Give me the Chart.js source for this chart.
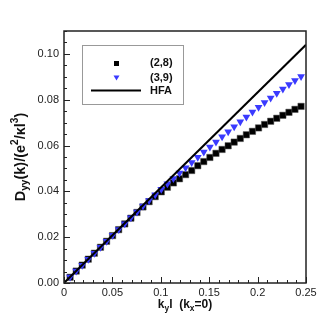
<!DOCTYPE html>
<html>
<head>
<meta charset="utf-8">
<script src="https://cdn.jsdelivr.net/npm/chart.js@4.4.0/dist/chart.umd.min.js"></script>
<style>
  html, body { margin: 0; padding: 0; background: #fff; }
  #wrap { width: 328px; height: 328px; }
</style>
</head>
<body>
<div id="wrap"><canvas id="chart" width="328" height="328"></canvas></div>
<script>
// k_y l values (step ~ 2*pi/1000)
const kValues = [
    0.0063, 0.0126, 0.0188, 0.0251, 0.0314, 0.0377, 0.0440, 0.0502, 0.0565, 0.0628,
    0.0691, 0.0754, 0.0816, 0.0879, 0.0942, 0.1005, 0.1068, 0.1130, 0.1193, 0.1256,
    0.1319, 0.1382, 0.1444, 0.1507, 0.1570, 0.1633, 0.1696, 0.1758, 0.1821, 0.1884,
    0.1947, 0.2010, 0.2072, 0.2135, 0.2198, 0.2261, 0.2324, 0.2386, 0.2449
];
// (2,8) squares
const d28 = [
    0.0025, 0.0052, 0.0078, 0.0104, 0.0130, 0.0156, 0.0182, 0.0207, 0.0233, 0.0258,
    0.0283, 0.0308, 0.0332, 0.0355, 0.0377, 0.0398, 0.0418, 0.0437, 0.0455, 0.0473,
    0.0491, 0.0512, 0.0530, 0.0548, 0.0566, 0.0583, 0.0599, 0.0615, 0.0631, 0.0647,
    0.0662, 0.0677, 0.0692, 0.0706, 0.0719, 0.0732, 0.0745, 0.0758, 0.0771
];
// (3,9) triangles
const d39 = [
    0.0026, 0.0052, 0.0078, 0.0104, 0.0130, 0.0156, 0.0182, 0.0208, 0.0234, 0.0259,
    0.0285, 0.0310, 0.0336, 0.0360, 0.0385, 0.0409, 0.0433, 0.0456, 0.0480, 0.0503,
    0.0526, 0.0549, 0.0572, 0.0594, 0.0616, 0.0638, 0.0660, 0.0682, 0.0704, 0.0725,
    0.0746, 0.0767, 0.0788, 0.0808, 0.0828, 0.0847, 0.0866, 0.0884, 0.0901
];
// HFA straight line end points
const hfaK = [0, 0.25];
const hfaD = [0, 0.104];

const xTicks = [0, 0.05, 0.1, 0.15, 0.2, 0.25];
const xTickLabels = ['0', '0.05', '0.1', '0.15', '0.2', '0.25'];
const yTicks = [0, 0.02, 0.04, 0.06, 0.08, 0.10];
const yTickLabels = ['0.00', '0.02', '0.04', '0.06', '0.08', '0.10'];
const xMinorStep = 0.01;
const yMinorStep = 0.005;

const FONT = '"Liberation Sans", Arial, Helvetica, sans-serif';

function pairs(xs, ys) {
    return xs.map((x, i) => ({ x: x, y: ys[i] }));
}

// text with sub/sup pieces: parts = [[text, 'n'|'sub'|'sup'], ...]
function richWidth(ctx, parts, size) {
    let w = 0;
    parts.forEach(p => {
        const s = p[1] === 'n' ? size : size * 0.7;
        ctx.font = 'bold ' + s + 'px ' + FONT;
        w += ctx.measureText(p[0]).width;
    });
    return w;
}
function drawRich(ctx, parts, size, x, y) {
    let cx = x;
    parts.forEach(p => {
        const s = p[1] === 'n' ? size : size * 0.7;
        ctx.font = 'bold ' + s + 'px ' + FONT;
        let dy = 0;
        if (p[1] === 'sub') dy = size * 0.3;
        if (p[1] === 'sup') dy = -size * 0.38;
        ctx.fillText(p[0], cx, y + dy);
        cx += ctx.measureText(p[0]).width;
    });
}

const yTitle = [['D', 'n'], ['yy', 'sub'], ['(k)/(e', 'n'], ['2', 'sup'], ['/\u03bal', 'n'], ['3', 'sup'], [')', 'n']];
const xTitle = [['k', 'n'], ['y', 'sub'], ['l  (k', 'n'], ['x', 'sub'], ['=0)', 'n']];

const framePlugin = {
    id: 'frame',
    afterDraw(chart) {
        const ctx = chart.ctx;
        const a = chart.chartArea;
        const xs = chart.scales.x;
        const ys = chart.scales.y;
        ctx.save();
        // minor + major ticks pointing inward
        ctx.strokeStyle = '#222';
        ctx.lineWidth = 1;
        for (let i = 0; i <= Math.round(0.25 / xMinorStep); i++) {
            const v = i * xMinorStep;
            const px = Math.round(xs.getPixelForValue(v)) + 0.5;
            const major = xTicks.some(t => Math.abs(t - v) < 1e-9);
            ctx.beginPath();
            ctx.moveTo(px, a.bottom);
            ctx.lineTo(px, a.bottom - (major ? 6 : 3));
            ctx.stroke();
        }
        for (let i = 0; i <= Math.round(0.11 / yMinorStep); i++) {
            const v = i * yMinorStep;
            const py = Math.round(ys.getPixelForValue(v)) + 0.5;
            const major = yTicks.some(t => Math.abs(t - v) < 1e-9);
            ctx.beginPath();
            ctx.moveTo(a.left, py);
            ctx.lineTo(a.left + (major ? 6 : 3), py);
            ctx.stroke();
        }
        // frame
        ctx.lineWidth = 1.5;
        ctx.strokeStyle = '#222';
        ctx.strokeRect(a.left, a.top, a.right - a.left, a.bottom - a.top);

        // axis titles
        ctx.fillStyle = '#111';
        ctx.textBaseline = 'middle';
        ctx.textAlign = 'left';
        const xw = richWidth(ctx, xTitle, 12);
        drawRich(ctx, xTitle, 12, (a.left + a.right) / 2 - xw / 2, 305);
        ctx.save();
        ctx.translate(21, (a.top + a.bottom) / 2);
        ctx.rotate(-Math.PI / 2);
        const yw = richWidth(ctx, yTitle, 14.5);
        drawRich(ctx, yTitle, 14.5, -yw / 2, 0);
        ctx.restore();

        // legend
        ctx.lineWidth = 1;
        ctx.strokeStyle = '#999';
        ctx.strokeRect(82.5, 45.5, 101, 59);
        ctx.font = 'bold 11px ' + FONT;
        ctx.fillStyle = '#111';
        const rows = [
            { y: 63, label: '(2,8)' },
            { y: 77.5, label: '(3,9)' },
            { y: 90.5, label: 'HFA' }
        ];
        rows.forEach(r => ctx.fillText(r.label, 150, r.y));
        ctx.fillStyle = '#000';
        ctx.fillRect(114, 61, 5, 5);
        ctx.fillStyle = '#3a3aff';
        ctx.beginPath();
        ctx.moveTo(113.5, 75.5);
        ctx.lineTo(119.5, 75.5);
        ctx.lineTo(116.5, 80.5);
        ctx.closePath();
        ctx.fill();
        ctx.strokeStyle = '#000';
        ctx.lineWidth = 2;
        ctx.beginPath();
        ctx.moveTo(91, 90.5);
        ctx.lineTo(141, 90.5);
        ctx.stroke();
        ctx.restore();
    }
};

const chartConfig = {
    type: 'scatter',
    data: {
        datasets: [
            {
                label: 'HFA',
                type: 'line',
                data: pairs(hfaK, hfaD),
                borderColor: '#000',
                borderWidth: 2,
                pointRadius: 0,
                fill: false,
                order: 0
            },
            {
                label: '(3,9)',
                data: pairs(kValues, d39),
                pointStyle: 'triangle',
                rotation: 180,
                pointRadius: 4.5,
                backgroundColor: '#3a3aff',
                borderColor: '#3a3aff',
                borderWidth: 0,
                order: 1
            },
            {
                label: '(2,8)',
                data: pairs(kValues, d28),
                pointStyle: 'rect',
                pointRadius: 4.5,
                backgroundColor: '#000',
                borderColor: '#555',
                borderWidth: 0.5,
                order: 2
            }
        ]
    },
    options: {
        responsive: false,
        animation: false,
        layout: {
            padding: { left: 0, right: 22, top: 31, bottom: 0 }
        },
        plugins: {
            legend: { display: false },
            tooltip: { enabled: false }
        },
        scales: {
            x: {
                type: 'linear',
                min: 0,
                max: 0.25,
                grid: { display: false, drawTicks: false },
                border: { display: false },
                afterBuildTicks: s => { s.ticks = xTicks.map(v => ({ value: v })); },
                afterFit: s => { s.height = 45; },
                ticks: {
                    padding: 3,
                    color: '#222',
                    font: { family: FONT, size: 11 },
                    maxRotation: 0,
                    callback: function(value) {
                        const i = xTicks.findIndex(t => Math.abs(t - value) < 1e-9);
                        return i >= 0 ? xTickLabels[i] : '';
                    }
                }
            },
            y: {
                type: 'linear',
                min: 0,
                max: 0.11,
                grid: { display: false, drawTicks: false },
                border: { display: false },
                afterBuildTicks: s => { s.ticks = yTicks.map(v => ({ value: v })); },
                afterFit: s => { s.width = 64; },
                ticks: {
                    padding: 5,
                    color: '#222',
                    font: { family: FONT, size: 11 },
                    callback: function(value) {
                        const i = yTicks.findIndex(t => Math.abs(t - value) < 1e-9);
                        return i >= 0 ? yTickLabels[i] : '';
                    }
                }
            }
        }
    },
    plugins: [framePlugin]
};

const chart = new Chart(document.querySelector('#chart'), chartConfig);
</script>
</body>
</html>
